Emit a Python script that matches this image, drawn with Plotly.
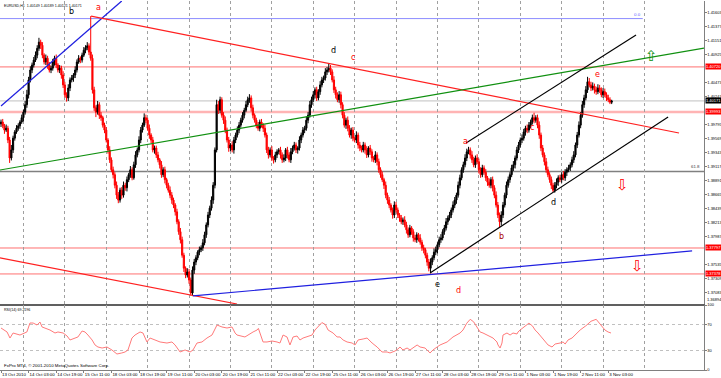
import plotly.graph_objects as go

# ---------------- data ----------------
title_text = "EURUSD,H1  1.40149 1.40189 1.40121 1.40171"
rsi_title = "RSI(14) 69.2196"
copyright_text = "FxPro MT4, © 2001-2010 MetaQuotes Software Corp."

first_open_pips = 13980
close_pips = [
    13983, 13977, 13970, 13973, 13954, 13925, 13938, 13957, 13967, 13973,
    13977, 13983, 13990, 13999, 14011, 14027, 14051, 14067, 14075, 14083,
    14091, 14102, 14112, 14107, 14091, 14080, 14086, 14075, 14067, 14070,
    14080, 14086, 14075, 14067, 14070, 14059, 14043, 14027, 14022, 14038,
    14051, 14054, 14059, 14067, 14080, 14086, 14083, 14091, 14099, 14103,
    14106, 14096, 14086, 14035, 14006, 13999, 14011, 13994, 13990, 13978,
    13970, 13954, 13938, 13922, 13906, 13898, 13881, 13865, 13857, 13873,
    13865, 13881, 13877, 13890, 13898, 13906, 13893, 13914, 13930, 13938,
    13954, 13970, 13978, 13990, 13986, 13973, 13962, 13954, 13938, 13941,
    13930, 13922, 13914, 13898, 13906, 13890, 13881, 13873, 13865, 13857,
    13849, 13838, 13822, 13806, 13793, 13768, 13747, 13736, 13741, 13728,
    13707, 13744, 13757, 13764, 13773, 13777, 13780, 13788, 13801, 13817,
    13833, 13844, 13857, 13881, 13938, 14011, 14002, 14019, 13994, 13986,
    13970, 13954, 13941, 13946, 13938, 13954, 13962, 13970, 13978, 13986,
    13994, 14002, 14011, 14019, 14022, 14006, 13994, 13986, 13978, 13973,
    13983, 13978, 13973, 13962, 13938, 13930, 13938, 13925, 13922, 13930,
    13935, 13938, 13930, 13922, 13925, 13938, 13930, 13922, 13935, 13941,
    13946, 13938, 13941, 13954, 13962, 13970, 13973, 13986, 13994, 14011,
    14019, 14027, 14035, 14022, 14032, 14043, 14051, 14054, 14064, 14067,
    14070, 14064, 14051, 14035, 14027, 14019, 14027, 14011, 13994, 13978,
    13986, 13973, 13962, 13970, 13957, 13954, 13962, 13946, 13941, 13938,
    13946, 13938, 13930, 13941, 13935, 13925, 13922, 13930, 13919, 13906,
    13898, 13890, 13881, 13865, 13857, 13849, 13841, 13833, 13849, 13841,
    13833, 13828, 13822, 13825, 13817, 13809, 13801, 13812, 13806, 13796,
    13793, 13801, 13796, 13789, 13780, 13777, 13768, 13757, 13747, 13757,
    13764, 13773, 13777, 13785, 13793, 13796, 13806, 13812, 13822, 13828,
    13833, 13841, 13849, 13857, 13865, 13881, 13893, 13906, 13914, 13925,
    13935, 13938, 13930, 13922, 13914, 13925, 13919, 13906, 13898, 13909,
    13902, 13893, 13886, 13881, 13890, 13877, 13865, 13849, 13833, 13822,
    13833, 13849, 13865, 13881, 13890, 13898, 13909, 13914, 13925, 13938,
    13946, 13954, 13957, 13967, 13973, 13970, 13978, 13983, 13990, 13986,
    13990, 13978, 13962, 13941, 13930, 13919, 13906, 13898, 13890, 13881,
    13873, 13881, 13886, 13893, 13890, 13898, 13893, 13902, 13906, 13909,
    13914, 13922, 13930, 13946, 13962, 13978, 13994, 14011, 14022, 14035,
    14048, 14043, 14038, 14041, 14035, 14032, 14038, 14035, 14027, 14032,
    14027, 14022, 14019, 14015, 14017,
]
upper_wick_pips = [
    4, 5, 3, 6, 4, 5, 8, 4, 3, 5,  4, 3, 5, 4, 6, 8, 5, 6, 4, 5,
    6, 5, 7, 4, 5, 3, 6, 4, 5, 4,  5, 4, 6, 3, 5, 4, 6, 5, 4, 6,
    4, 5, 3, 6, 4, 5, 3, 4, 5, 4,  6, 4, 58, 6, 5, 4, 6, 4, 5, 3,
    4, 5, 3, 6, 4, 5, 4, 6, 5, 4,  5, 6, 4, 5, 3, 6, 4, 5, 6, 4,
    6, 5, 4, 7, 5, 4, 6, 3, 5, 4,  4, 5, 3, 6, 4, 5, 3, 4, 6, 5,
    4, 3, 5, 4, 6, 5, 4, 3, 6, 5,  4, 6, 5, 4, 3, 5, 4, 6, 5, 4,
    5, 4, 6, 5, 4, 8, 6, 5, 4, 5,  6, 4, 5, 3, 6, 5, 4, 6, 5, 4,
    5, 4, 6, 5, 6, 4, 5, 3, 4, 5,  4, 5, 3, 6, 4, 5, 4, 6, 3, 5,
    4, 3, 5, 4, 6, 3, 5, 4, 6, 4,  5, 4, 3, 6, 4, 5, 4, 6, 5, 6,
    5, 6, 4, 5, 4, 6, 5, 4, 6, 5,  8, 5, 4, 6, 5, 4, 6, 5, 4, 5,
    4, 6, 5, 4, 5, 3, 6, 4, 5, 4,  5, 4, 6, 3, 5, 4, 3, 6, 4, 5,
    4, 5, 3, 6, 4, 5, 3, 4, 6, 5,  4, 3, 5, 4, 6, 5, 4, 5, 3, 4,
    5, 4, 3, 6, 4, 5, 3, 4, 5, 6,  4, 6, 5, 4, 5, 6, 4, 5, 6, 4,
    5, 4, 6, 5, 4, 6, 5, 4, 5, 6,  5, 5, 4, 6, 5, 4, 6, 5, 4, 5,
    4, 5, 3, 6, 4, 5, 4, 6, 5, 4,  6, 5, 4, 6, 5, 4, 5, 6, 4, 5,
    5, 4, 6, 5, 4, 6, 5, 4, 5, 8,  4, 5, 6, 4, 5, 4, 6, 5, 4, 5,
    4, 5, 6, 4, 5, 4, 6, 5, 4, 5,  4, 5, 6, 4, 5, 6, 5, 6, 5, 6,
    8, 6, 5, 6, 4, 5, 6, 5, 4, 6,  5, 4, 5, 4, 2,
]
lower_wick_pips = [
    5, 4, 6, 3, 5, 8, 4, 5, 4, 3,  4, 5, 3, 6, 4, 5, 6, 4, 5, 4,
    3, 5, 4, 6, 5, 4, 5, 6, 4, 5,  4, 6, 5, 4, 5, 6, 5, 4, 6, 5,
    5, 4, 6, 5, 4, 3, 5, 4, 3, 5,  4, 5, 4, 6, 5, 8, 4, 6, 5, 4,
    5, 4, 6, 5, 4, 6, 5, 6, 5, 4,  6, 4, 5, 6, 4, 5, 4, 3, 5, 4,
    4, 5, 4, 3, 5, 4, 6, 5, 4, 6,  5, 4, 6, 5, 4, 6, 5, 4, 5, 6,
    5, 6, 4, 5, 6, 4, 6, 5, 4, 6,  4, 5, 6, 5, 4, 5, 4, 5, 4, 5,
    4, 5, 4, 6, 5, 4, 6, 5, 4, 6,  5, 4, 6, 5, 4, 6, 5, 4, 5, 4,
    4, 5, 3, 4, 5, 6, 5, 4, 5, 4,  5, 4, 6, 4, 5, 6, 4, 5, 6, 4,
    5, 4, 6, 5, 4, 5, 6, 4, 5, 4,  4, 5, 6, 4, 5, 4, 5, 4, 5, 4,
    5, 4, 6, 5, 4, 5, 4, 5, 4, 5,  4, 5, 4, 5, 6, 4, 5, 6, 5, 4,
    6, 5, 4, 6, 5, 4, 5, 6, 5, 4,  4, 6, 5, 4, 5, 6, 4, 5, 6, 5,
    5, 4, 6, 5, 6, 5, 4, 6, 5, 4,  5, 6, 4, 5, 4, 6, 5, 4, 5, 6,
    4, 5, 6, 4, 5, 6, 5, 6, 5, 8,  5, 4, 5, 6, 4, 5, 4, 5, 4, 5,
    4, 5, 4, 5, 6, 4, 5, 4, 5, 4,  5, 4, 6, 5, 4, 5, 4, 6, 5, 4,
    4, 5, 6, 4, 5, 6, 5, 4, 5, 10, 6, 5, 4, 5, 4, 5, 4, 5, 6, 4,
    5, 4, 5, 4, 6, 5, 4, 5, 4, 5,  4, 5, 6, 5, 4, 6, 5, 4, 5, 6,
    3, 4, 5, 6, 4, 5, 4, 5, 6, 4,  5, 4, 5, 4, 5, 4, 5, 4, 5, 4,
    5, 4, 5, 4, 6, 5, 4, 5, 4, 5,  4, 5, 4, 3, 3,
]

time_labels = ["13 Oct 2010", "14 Oct 03:00", "14 Oct 19:00", "15 Oct 11:00",
               "18 Oct 03:00", "18 Oct 19:00", "19 Oct 11:00", "20 Oct 03:00",
               "20 Oct 19:00", "21 Oct 11:00", "22 Oct 03:00", "22 Oct 19:00",
               "25 Oct 11:00", "26 Oct 03:00", "26 Oct 19:00", "27 Oct 11:00",
               "28 Oct 03:00", "28 Oct 19:00", "29 Oct 11:00", "1 Nov 03:00",
               "1 Nov 19:00", "2 Nov 11:00", "3 Nov 03:00"]
bars_per_label = 16
first_midnight_bar = 13
bars_per_day = 24
n_day_lines = 16

price_tick_labels = ["1.37083", "1.37309", "1.37535", "1.37761", "1.37987", "1.38213",
                     "1.38439", "1.38665", "1.38891", "1.39117", "1.39343", "1.39569",
                     "1.39795", "1.40021", "1.40247", "1.40473", "1.40699", "1.40925",
                     "1.41151", "1.41377", "1.41603"]

# RSI(14): (bar position, value)
rsi_bar = [0, 3.5, 5.2, 7, 11, 15, 16.8, 18.6, 20.9, 22.6, 23.8, 25.5, 28.4, 31.3, 33, 36,
           38.3, 40, 41.7, 44.6, 47, 48.7, 50.4, 52.8, 54.5, 56.2, 58.6, 61.4, 64.3, 67.2,
           70, 71.9, 73.6, 75.9, 77.7, 80.6, 82.3, 84.6, 86.4, 89.3, 92.2, 96.2, 99.1,
           100.9, 103.8, 106.7, 109.6, 111.3, 113.6, 116.5, 119.4, 122.3, 125.2, 128.1,
           131, 133.9, 135.7, 136.8, 138.6, 141.4, 146.1, 148.4, 149.2, 150.1, 151.9,
           154.2, 157.1, 160, 161.7, 163.5, 165.8, 167.5, 169.3, 171.6, 173.3, 175.1,
           177.4, 180.3, 182, 184, 186, 188, 189.6, 192.5, 194.8, 196.5, 198.3, 200.6,
           203.5, 205.2, 207, 209.9, 212.2, 215.1, 218, 220.9, 223.8, 225.5, 228.4,
           230.1, 231.3, 233, 235.4, 237.1, 238.8, 241.2, 242.9, 245.8, 248.7, 250.4,
           252.8, 254.5, 258.6, 262, 266.1, 267.8, 270, 272, 274, 276, 277.7, 279.4,
           281.7, 283.5, 285.2, 287.5, 288.1, 289.3, 290.4, 291, 293.3, 295.1, 296.8,
           299.1, 299.7, 300.9, 303, 306, 308, 309.6, 311.3, 313.6, 315.4, 317.1, 319.4,
           321.2, 324.1, 325.8, 327, 328.7, 331, 332.8, 334.5, 335.7, 339, 342, 345, 347,
           349, 350.1, 351.9, 353.6]
rsi_val = [64.6, 58.5, 49.2, 56.9, 53.8, 58.5, 72.3, 72.3, 69.2, 73.8, 66.2, 64.6, 61.5,
           56.9, 58.5, 56.9, 52.3, 46.2, 47.7, 50.8, 60, 58.5, 53.8, 46.2, 38.5, 35.4,
           33.8, 35.4, 30.8, 24.6, 26.2, 27.7, 30.8, 49.2, 53.8, 58.5, 56.9, 43.1, 49.2,
           46.2, 43.1, 41.5, 43.1, 38.5, 27.7, 30.8, 27.7, 30.8, 41.5, 43.1, 49.2, 53.8,
           69.2, 66.2, 64.6, 66.2, 56.9, 53.8, 52.3, 50.8, 58.5, 61.5, 64, 56.9, 43.1,
           43.1, 44.6, 43.1, 41.5, 53.8, 50.8, 38.5, 50.8, 52.3, 46.2, 49.2, 50.8, 53.8,
           61.5, 68, 73, 70, 61.5, 56.9, 50.8, 50.8, 46.2, 43.1, 41.5, 38.5, 46.2, 47.7,
           49.2, 41.5, 35.4, 27.7, 27.7, 26.2, 29.2, 32.3, 35.4, 30.8, 33.8, 30.8, 33.8,
           38.5, 35.4, 33.8, 26.2, 30.8, 35.4, 38.5, 43.1, 50.8, 56.9, 61.5, 72, 78, 74,
           66, 58.5, 56.9, 53.8, 50.8, 49.2, 43.1, 38.5, 33.8, 41.5, 53.8, 56.9, 53.8,
           56.9, 55.4, 58.5, 61.5, 66, 72, 68, 61.5, 56.9, 49.2, 43.1, 38.5, 35.4, 40,
           41.5, 43.1, 40, 46.2, 49.2, 53.8, 58.5, 61.5, 68, 75, 78, 72, 66, 61.5, 58.5,
           56.9]
rsi_levels = [0, 30, 70, 100]

# horizontal levels (price) and their tags
level_red = [1.40720, 1.37797, 1.37378]
level_pink = 1.39993
level_fib0 = 1.41500
level_618 = 1.39032
current_price = 1.40171
bottom_price_label = "1.36894"

# trend lines: (bar, price) anchor pairs
trend_lines = [
    dict(bars=[0, 70], prices=[1.40088, 1.41785], color="#2020e0"),      # steep blue
    dict(bars=[52.2, 393], prices=[1.41540, 1.39653], color="#ff2020"),  # falling red
    dict(bars=[-0.6, 407.5], prices=[1.39056, 1.41025], color="#109010"),  # green
    dict(bars=[-0.6, 136.8], prices=[1.37636, 1.36893], color="#ff2020"),  # lower red
    dict(bars=[111.3, 400.6], prices=[1.37023, 1.37749], color="#2020e0"),  # lower blue
    dict(bars=[269.6, 368.1], prices=[1.39492, 1.41235], color="#000000"),  # channel top
    dict(bars=[248.7, 386.7], prices=[1.37394, 1.39912], color="#000000"),  # channel bottom
]

wave_labels = [
    ("b", 40.6, 1.41622, "#000000"), ("a", 56.8, 1.41687, "#ff0000"),
    ("d", 192.5, 1.40977, "#000000"), ("c", 204, 1.40880, "#ff0000"),
    ("a", 269, 1.39508, "#ff0000"), ("b", 290.4, 1.37975, "#aa0000"),
    ("c", 307.8, 1.39734, "#ff0000"), ("d", 320, 1.38524, "#000000"),
    ("e", 345.5, 1.40590, "#ff0000"), ("e", 252.8, 1.37200, "#000000"),
    ("d", 265, 1.37103, "#ff0000"),
]
arrows = [("⇧", 376.8, 1.40896, "#109010"), ("⇩", 360, 1.38814, "#ff0000"),
          ("⇩", 368.7, 1.37507, "#ff0000")]

# ---------------- derived ----------------
n = len(close_pips)
bars = list(range(n))
closes = [c / 10000 for c in close_pips]
opens = [first_open_pips / 10000] + closes[:-1]
highs = [max(o, c) + u / 10000 for o, c, u in zip(opens, closes, upper_wick_pips)]
lows = [min(o, c) - d / 10000 for o, c, d in zip(opens, closes, lower_wick_pips)]
label_bars = [bars_per_label * k for k in range(len(time_labels))]
day_bars = [first_midnight_bar + bars_per_day * k for k in range(n_day_lines)]

# price-scale labels hidden under the coloured price tags are not shown
tag_levels = level_red + [level_pink, current_price]
shown_ticks = [s for s in price_tick_labels
               if all(abs(float(s) - t) > 0.0005 for t in tag_levels)]
price_ticks = [float(s) for s in shown_ticks]

FONT = "Liberation Sans"
X_RANGE = [-0.58, 407.5]
Y_RANGE = [1.36893, 1.41784]
FS = 4.4
FY = 4.0
FT = 3.6

fig = go.Figure()
fig.add_trace(go.Candlestick(
    x=bars, open=opens, high=highs, low=lows, close=closes,
    increasing=dict(line=dict(color="#000000", width=1), fillcolor="#000000"),
    decreasing=dict(line=dict(color="#ff0000", width=1), fillcolor="#ff0000"),
    whiskerwidth=0, xaxis="x", yaxis="y", hoverinfo="skip", showlegend=False))

for tl in trend_lines:
    fig.add_trace(go.Scatter(x=tl["bars"], y=tl["prices"], mode="lines",
                             line=dict(color=tl["color"], width=1.2),
                             xaxis="x", yaxis="y", hoverinfo="skip", showlegend=False))

fig.add_trace(go.Scatter(x=rsi_bar, y=rsi_val, mode="lines",
                         line=dict(color="#ff7a7a", width=1),
                         xaxis="x2", yaxis="y2", hoverinfo="skip", showlegend=False))

shapes = []
for lv in level_red:
    shapes.append(dict(type="line", xref="x domain", yref="y", x0=0, x1=1, y0=lv, y1=lv,
                       line=dict(color="#ff7070", width=1), layer="below"))
shapes.append(dict(type="line", xref="x domain", yref="y", x0=0, x1=1, y0=level_pink,
                   y1=level_pink, line=dict(color="#ffb4b4", width=2.5), layer="below"))
shapes.append(dict(type="line", xref="x domain", yref="y", x0=0, x1=1, y0=current_price,
                   y1=current_price, line=dict(color="#c0c0c0", width=1), layer="below"))
shapes.append(dict(type="line", xref="x domain", yref="y", x0=0, x1=1, y0=level_618,
                   y1=level_618, line=dict(color="#808080", width=1.5), layer="below"))
shapes.append(dict(type="line", xref="x", yref="y", x0=X_RANGE[0], x1=372, y0=level_fib0,
                   y1=level_fib0, line=dict(color="#8c8cff", width=1), layer="below"))
fig.update_layout(shapes=shapes)

ann = []
small = dict(family=FONT, size=FS, color="#000000")
ann.append(dict(text=title_text, xref="paper", yref="paper", x=0.003, y=0.998,
                xanchor="left", yanchor="top", showarrow=False,
                font=dict(family=FONT, size=FT, color="#000000")))
ann.append(dict(text=rsi_title, xref="paper", yref="y2 domain", x=0.003, y=0.98,
                xanchor="left", yanchor="top", showarrow=False,
                font=dict(family=FONT, size=FT, color="#000000")))
ann.append(dict(text=copyright_text, xref="paper", yref="y2 domain", x=0.003, y=0.0,
                xanchor="left", yanchor="bottom", showarrow=False, font=small))
ann.append(dict(text="0.0", xref="x", yref="y", x=372, y=level_fib0, xanchor="right",
                yanchor="bottom", showarrow=False,
                font=dict(family=FONT, size=FS, color="#6060ff")))
ann.append(dict(text="61.8", xref="paper", yref="y", x=0.997, y=level_618, xanchor="right",
                yanchor="bottom", showarrow=False, font=dict(family=FONT, size=FS, color="#404040")))
for txt, bx, py, col in wave_labels:
    ann.append(dict(text=txt, xref="x", yref="y", x=bx, y=py, showarrow=False,
                    font=dict(family="DejaVu Sans", size=8, color=col)))
for txt, bx, py, col in arrows:
    ann.append(dict(text=txt, xref="x", yref="y", x=bx, y=py, showarrow=False,
                    font=dict(family="DejaVu Sans", size=15, color=col)))
for lv in level_red + [level_pink]:
    ann.append(dict(text=f"{lv:.5f}", xref="paper", yref="y", x=1.0, y=lv, xanchor="left",
                    showarrow=False, bgcolor="#ff0000", borderpad=0, xshift=1,
                    font=dict(family=FONT, size=FY, color="#ffffff")))
ann.append(dict(text=f"{current_price:.5f}", xref="paper", yref="y", x=1.0, y=current_price,
                xanchor="left", showarrow=False, bgcolor="#000000", borderpad=0, xshift=1,
                font=dict(family=FONT, size=FY, color="#ffffff")))
ann.append(dict(text=bottom_price_label, xref="paper", yref="y", x=1.0, y=Y_RANGE[0],
                xanchor="left", yanchor="bottom", showarrow=False, xshift=1,
                font=dict(family=FONT, size=FY, color="#000000")))
fig.update_layout(annotations=ann)

axis_grey = "#808080"
fig.update_layout(
    template="none", boxgap=0.05,
    width=721, height=378, margin=dict(l=0, r=17, t=1, b=8, autoexpand=False),
    paper_bgcolor="#ffffff", plot_bgcolor="#ffffff", showlegend=False,
    font=dict(family=FONT, size=FS),
    xaxis=dict(domain=[0, 1], anchor="y", range=X_RANGE, showticklabels=False,
               showgrid=False, zeroline=False, rangeslider=dict(visible=False),
               automargin=False,
               showline=True, linecolor="#606060", linewidth=2, ticks="",
               minor=dict(tickvals=day_bars, showgrid=True, gridcolor="#a0a0a0",
                          griddash="dot", gridwidth=1, ticks="")),
    yaxis=dict(domain=[0.1789, 1], anchor="x", side="right", range=Y_RANGE,
               tickvals=price_ticks, ticktext=shown_ticks, showgrid=False,
               automargin=False, ticklabelstandoff=0,
               zeroline=False, showline=True, linecolor=axis_grey, linewidth=1,
               ticks="outside", ticklen=1.5, tickcolor=axis_grey,
               tickfont=dict(family=FONT, size=FY, color="#000000")),
    xaxis2=dict(domain=[0, 1], anchor="y2", range=X_RANGE, matches="x",
                tickvals=label_bars, ticktext=time_labels, tickangle=0,
                automargin=False,
                ticklabelposition="outside right", ticks="outside", ticklen=2,
                tickcolor=axis_grey, showgrid=False, zeroline=False, showline=True,
                linecolor=axis_grey, linewidth=1,
                tickfont=dict(family=FONT, size=FS, color="#000000"),
                minor=dict(tickvals=day_bars, showgrid=True, gridcolor="#a0a0a0",
                           griddash="dot", gridwidth=1, ticks="")),
    yaxis2=dict(domain=[0, 0.17615], anchor="x2", side="right", range=[0, 100],
                tickvals=rsi_levels, ticktext=[str(v) for v in rsi_levels],
                automargin=False, ticklabelstandoff=0,
                showgrid=True, gridcolor="#c0c0c0", griddash="dot", zeroline=False,
                showline=True, linecolor=axis_grey, linewidth=1, ticks="outside",
                ticklen=1.5, tickcolor=axis_grey,
                tickfont=dict(family=FONT, size=FY, color="#000000")),
)

fig.write_html("out.html", config=dict(displayModeBar=False),
               post_script="document.body.style.margin='0px';document.body.style.overflow='hidden';")
